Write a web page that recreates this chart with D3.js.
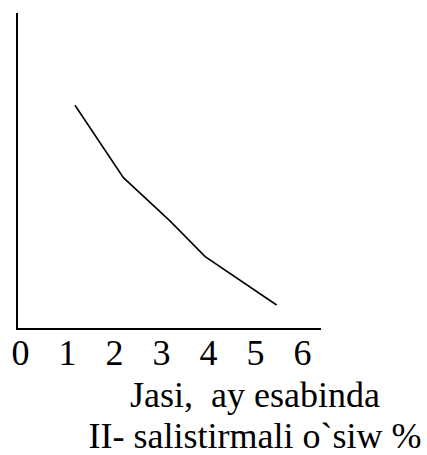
<!DOCTYPE html>
<html>
<head>
<meta charset="utf-8">
<script src="https://cdn.jsdelivr.net/npm/d3@7"></script>
<style>
  body { margin: 0; background: #fff; }
</style>
</head>
<body>
<div id="chart"></div>
<script>
// age in months vs relative growth
var ageMonths = [1.17, 2.2, 3.19, 3.94, 5.46];
var growthPct = [70.8, 47.9, 34.2, 22.9, 7.6];
var xTicks = [0, 1, 2, 3, 4, 5, 6];
var titleLines = ["Jasi,  ay esabinda", "II- salistirmali o`siw %"];

var width = 427, height = 455;
var frame = { left: 17, right: 321, top: 13, bottom: 329 };
var serif = "Liberation Serif";

var svg = d3.select("#chart").append("svg")
    .attr("width", width)
    .attr("height", height);

var x = d3.scaleLinear().domain([0, 6]).range([20, 302]);
var y = d3.scaleLinear().domain([0, 100]).range([frame.bottom, frame.top]);

//axes: plain L shaped frame, no tick marks
svg.append("path")
    .attr("d", "M" + frame.left + "," + frame.top + "V" + frame.bottom + "H" + frame.right)
    .attr("fill", "none")
    .attr("stroke", "#000")
    .attr("stroke-width", 2);

var xAxis = svg.append("g")
    .attr("transform", "translate(0," + frame.bottom + ")")
    .call(d3.axisBottom(x).tickValues(xTicks).tickSize(0).tickFormat(d3.format("d")));
xAxis.attr("font-family", serif).attr("font-size", 36);
xAxis.select(".domain").remove();
xAxis.selectAll("text")
    .attr("y", 36)
    .attr("dy", 0)
    .attr("fill", "#000");

var line = d3.line()
    .x(function (d) { return x(d[0]); })
    .y(function (d) { return y(d[1]); });

svg.append("path")
    .datum(d3.zip(ageMonths, growthPct))
    .attr("d", line)
    .attr("fill", "none")
    .attr("stroke", "#000")
    .attr("stroke-width", 1.6);

svg.selectAll(".caption")
    .data(titleLines)
    .enter().append("text")
    .attr("class", "caption")
    .attr("x", 255)
    .attr("y", function (d, i) { return 407 + i * 41; })
    .attr("text-anchor", "middle")
    .attr("font-family", serif)
    .attr("font-size", 36)
    .style("white-space", "pre")
    .text(function (d) { return d; });
</script>
</body>
</html>
